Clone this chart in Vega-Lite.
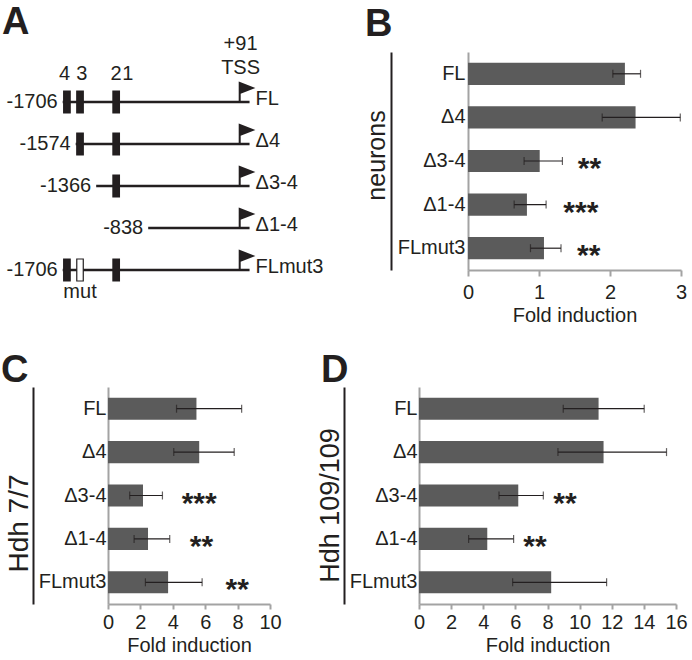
{
  "$schema": "https://vega.github.io/schema/vega-lite/v6.json",
  "padding": {"left": 1, "top": 3, "right": 2, "bottom": 2},
  "background": "white",
  "spacing": 27,
  "config": {
    "font": "Liberation Sans",
    "view": {"stroke": null},
    "axis": {"grid": false, "labelFont": "Liberation Sans", "titleFont": "Liberation Sans", "labelOverlap": false, "labelFlush": false},
    "text": {"font": "Liberation Sans"},
    "title": {"font": "Liberation Sans"}
  },
  "datasets": {
    "constructs": [
      {"name": "FL", "row": 1, "start": -1706, "startLabel": "-1706", "end": 191},
      {"name": "Δ4", "row": 2, "start": -1574, "startLabel": "-1574", "end": 191},
      {"name": "Δ3-4", "row": 3, "start": -1366, "startLabel": "-1366", "end": 191},
      {"name": "Δ1-4", "row": 4, "start": -838, "startLabel": "-838", "end": 191},
      {"name": "FLmut3", "row": 5, "start": -1706, "startLabel": "-1706", "end": 191}
    ],
    "boxes": [
      {"row": 1, "site": "4", "pos": -1663, "kind": "wt"},
      {"row": 1, "site": "3", "pos": -1530, "kind": "wt"},
      {"row": 1, "site": "2-1", "pos": -1163, "kind": "wt"},
      {"row": 2, "site": "3", "pos": -1530, "kind": "wt"},
      {"row": 2, "site": "2-1", "pos": -1163, "kind": "wt"},
      {"row": 3, "site": "2-1", "pos": -1163, "kind": "wt"},
      {"row": 5, "site": "4", "pos": -1663, "kind": "wt"},
      {"row": 5, "site": "3", "pos": -1530, "kind": "mut"},
      {"row": 5, "site": "2-1", "pos": -1163, "kind": "wt"}
    ],
    "annotations": [
      {"text": "+91", "bp": 100, "level": -0.39},
      {"text": "TSS", "bp": 100, "level": 0.19},
      {"text": "4", "bp": -1686, "level": 0.33},
      {"text": "3", "bp": -1513, "level": 0.33},
      {"text": "2", "bp": -1163, "level": 0.33},
      {"text": "1", "bp": -1046, "level": 0.33},
      {"text": "mut", "bp": -1530, "level": 5.53}
    ],
    "neurons": [
      {"construct": "FL", "mean": 2.21, "lo": 2.04, "hi": 2.43},
      {"construct": "Δ4", "mean": 2.36, "lo": 1.89, "hi": 2.99},
      {"construct": "Δ3-4", "mean": 1.01, "lo": 0.79, "hi": 1.33, "stars": "**", "starx": 1.71},
      {"construct": "Δ1-4", "mean": 0.83, "lo": 0.65, "hi": 1.10, "stars": "***", "starx": 1.59},
      {"construct": "FLmut3", "mean": 1.07, "lo": 0.88, "hi": 1.31, "stars": "**", "starx": 1.70}
    ],
    "hdh7": [
      {"construct": "FL", "mean": 5.46, "lo": 4.23, "hi": 8.25},
      {"construct": "Δ4", "mean": 5.63, "lo": 4.06, "hi": 7.79},
      {"construct": "Δ3-4", "mean": 2.16, "lo": 1.34, "hi": 3.36, "stars": "***", "starx": 5.63},
      {"construct": "Δ1-4", "mean": 2.47, "lo": 1.61, "hi": 3.81, "stars": "**", "starx": 5.77},
      {"construct": "FLmut3", "mean": 3.71, "lo": 2.31, "hi": 5.81, "stars": "**", "starx": 7.98}
    ],
    "hdh109": [
      {"construct": "FL", "mean": 11.18, "lo": 8.98, "hi": 14.02},
      {"construct": "Δ4", "mean": 11.49, "lo": 8.65, "hi": 15.41},
      {"construct": "Δ3-4", "mean": 6.18, "lo": 4.98, "hi": 7.74, "stars": "**", "starx": 9.09},
      {"construct": "Δ1-4", "mean": 4.25, "lo": 3.09, "hi": 5.89, "stars": "**", "starx": 7.22},
      {"construct": "FLmut3", "mean": 8.23, "lo": 5.83, "hi": 11.68}
    ]
  },
  "vconcat": [
    {
      "bounds": "flush",
      "spacing": 149,
      "hconcat": [
        {
          "title": {"text": "A", "anchor": "start", "frame": "group", "orient": "top", "dx": -106, "dy": 36, "offset": -2, "baseline": "alphabetic", "fontSize": 38, "fontWeight": "bold", "color": "#231f20"},
          "width": 211,
          "height": 218,
          "layer": [
            {
              "data": {"name": "constructs"},
              "mark": {"type": "rule", "strokeWidth": 2.5, "color": "#231f20"},
              "encoding": {
                "x": {"field": "start", "type": "quantitative", "scale": {"domain": [-1246, 896], "nice": false, "zero": false}, "axis": null},
                "x2": {"field": "end"},
                "y": {"field": "row", "type": "quantitative", "scale": {"domain": [-0.1905, 5], "reverse": true, "nice": false, "zero": false}, "axis": null}
              }
            },
            {
              "data": {"name": "boxes"},
              "mark": {"type": "tick", "orient": "vertical", "thickness": 6.5, "size": 22, "stroke": "#231f20", "strokeWidth": 1.2, "opacity": 1},
              "encoding": {
                "x": {"field": "pos", "type": "quantitative", "scale": {"domain": [-1246, 896], "nice": false, "zero": false}, "axis": null},
                "y": {"field": "row", "type": "quantitative", "scale": {"domain": [-0.1905, 5], "reverse": true, "nice": false, "zero": false}, "axis": null},
                "fill": {"field": "kind", "type": "nominal", "scale": {"domain": ["wt", "mut"], "range": ["#231f20", "#ffffff"]}, "legend": null}
              }
            },
            {
              "data": {"name": "constructs"},
              "mark": {"type": "point", "shape": "M0,0L0,-0.9M0,-1L0.68,-0.74L0,-0.47Z", "size": 1444, "filled": true, "fill": "#231f20", "stroke": "#231f20", "strokeWidth": 2, "opacity": 1},
              "encoding": {
                "x": {"datum": 91, "type": "quantitative", "scale": {"domain": [-1246, 896], "nice": false, "zero": false}, "axis": null},
                "y": {"field": "row", "type": "quantitative", "scale": {"domain": [-0.1905, 5], "reverse": true, "nice": false, "zero": false}, "axis": null}
              }
            },
            {
              "data": {"name": "constructs"},
              "mark": {"type": "text", "align": "right", "baseline": "middle", "dx": -5, "fontSize": 20, "color": "#231f20"},
              "encoding": {
                "x": {"field": "start", "type": "quantitative", "scale": {"domain": [-1246, 896], "nice": false, "zero": false}, "axis": null},
                "y": {"field": "row", "type": "quantitative", "scale": {"domain": [-0.1905, 5], "reverse": true, "nice": false, "zero": false}, "axis": null},
                "text": {"field": "startLabel"}
              }
            },
            {
              "data": {"name": "constructs"},
              "mark": {"type": "text", "align": "left", "baseline": "middle", "dx": 6, "dy": -3, "fontSize": 20, "color": "#231f20"},
              "encoding": {
                "x": {"field": "end", "type": "quantitative", "scale": {"domain": [-1246, 896], "nice": false, "zero": false}, "axis": null},
                "y": {"field": "row", "type": "quantitative", "scale": {"domain": [-0.1905, 5], "reverse": true, "nice": false, "zero": false}, "axis": null},
                "text": {"field": "name"}
              }
            },
            {
              "data": {"name": "annotations"},
              "mark": {"type": "text", "align": "center", "baseline": "middle", "fontSize": 20, "color": "#231f20"},
              "encoding": {
                "x": {"field": "bp", "type": "quantitative", "scale": {"domain": [-1246, 896], "nice": false, "zero": false}, "axis": null},
                "y": {"field": "level", "type": "quantitative", "scale": {"domain": [-0.1905, 5], "reverse": true, "nice": false, "zero": false}, "axis": null},
                "text": {"field": "text"}
              }
            }
          ]
        },
        {
          "title": {"text": "B", "anchor": "start", "frame": "group", "orient": "top", "dx": -103, "dy": 33, "offset": 11, "baseline": "alphabetic", "fontSize": 38, "fontWeight": "bold", "color": "#231f20"},
          "width": 213,
          "height": 218,
          "data": {"name": "neurons"},
          "resolve": {"axis": {"y": "independent"}},
          "layer": [
            {
              "mark": {"type": "bar", "color": "#5b5b5b"},
              "encoding": {
                "y": {"field": "construct", "type": "nominal", "sort": null, "scale": {"paddingInner": 0.49, "paddingOuter": 0.245},
                      "axis": {"orient": "left", "title": null, "ticks": false, "labelFontSize": 20, "labelColor": "#231f20", "labelPadding": 3, "domainColor": "#a3a3a3", "domainWidth": 2, "minExtent": 0}},
                "x": {"field": "mean", "type": "quantitative", "title": "Fold induction", "scale": {"domain": [0, 3], "nice": false},
                      "axis": {"orient": "bottom", "values": [0, 1, 2, 3], "format": "d", "domainColor": "#a3a3a3", "domainWidth": 2, "tickColor": "#a3a3a3", "tickWidth": 2, "tickSize": 6, "labelFontSize": 20, "labelPadding": 6, "labelColor": "#231f20", "labelFlush": false, "labelOverlap": false, "titleFontSize": 20, "titleFontWeight": "normal", "titleColor": "#231f20", "titlePadding": 3}}
              }
            },
            {
              "mark": {"type": "rule", "color": "#231f20", "strokeWidth": 1.2},
              "encoding": {
                "y": {"field": "construct", "type": "nominal", "sort": null, "scale": {"paddingInner": 0.49, "paddingOuter": 0.245},
                      "axis": {"orient": "left", "offset": 77, "labels": false, "ticks": false, "domainColor": "#231f20", "domainWidth": 2, "title": "neurons", "titleFontSize": 25, "titleFontWeight": "normal", "titleColor": "#231f20", "titlePadding": 2, "minExtent": 0, "titleY": 103}},
                "x": {"field": "lo", "type": "quantitative", "title": "Fold induction", "scale": {"domain": [0, 3], "nice": false},
                      "axis": {"orient": "bottom", "values": [0, 1, 2, 3], "format": "d", "domainColor": "#a3a3a3", "domainWidth": 2, "tickColor": "#a3a3a3", "tickWidth": 2, "tickSize": 6, "labelFontSize": 20, "labelPadding": 6, "labelColor": "#231f20", "labelFlush": false, "labelOverlap": false, "titleFontSize": 20, "titleFontWeight": "normal", "titleColor": "#231f20", "titlePadding": 3}},
                "x2": {"field": "hi"}
              }
            },
            {
              "mark": {"type": "tick", "orient": "vertical", "color": "#231f20", "thickness": 1.2, "size": 8},
              "encoding": {
                "y": {"field": "construct", "type": "nominal", "sort": null, "axis": null},
                "x": {"field": "lo", "type": "quantitative", "title": "Fold induction", "scale": {"domain": [0, 3], "nice": false},
                      "axis": {"orient": "bottom", "values": [0, 1, 2, 3], "format": "d", "domainColor": "#a3a3a3", "domainWidth": 2, "tickColor": "#a3a3a3", "tickWidth": 2, "tickSize": 6, "labelFontSize": 20, "labelPadding": 6, "labelColor": "#231f20", "labelFlush": false, "labelOverlap": false, "titleFontSize": 20, "titleFontWeight": "normal", "titleColor": "#231f20", "titlePadding": 3}}
              }
            },
            {
              "mark": {"type": "tick", "orient": "vertical", "color": "#231f20", "thickness": 1.2, "size": 8},
              "encoding": {
                "y": {"field": "construct", "type": "nominal", "sort": null, "axis": null},
                "x": {"field": "hi", "type": "quantitative", "title": "Fold induction", "scale": {"domain": [0, 3], "nice": false},
                      "axis": {"orient": "bottom", "values": [0, 1, 2, 3], "format": "d", "domainColor": "#a3a3a3", "domainWidth": 2, "tickColor": "#a3a3a3", "tickWidth": 2, "tickSize": 6, "labelFontSize": 20, "labelPadding": 6, "labelColor": "#231f20", "labelFlush": false, "labelOverlap": false, "titleFontSize": 20, "titleFontWeight": "normal", "titleColor": "#231f20", "titlePadding": 3}}
              }
            },
            {
              "transform": [{"filter": "isValid(datum.stars)"}],
              "mark": {"type": "text", "fontSize": 30, "fontWeight": "bold", "color": "#231f20", "baseline": "middle", "align": "center", "dy": 8},
              "encoding": {
                "y": {"field": "construct", "type": "nominal", "sort": null, "axis": null},
                "x": {"field": "starx", "type": "quantitative", "title": "Fold induction", "scale": {"domain": [0, 3], "nice": false},
                      "axis": {"orient": "bottom", "values": [0, 1, 2, 3], "format": "d", "domainColor": "#a3a3a3", "domainWidth": 2, "tickColor": "#a3a3a3", "tickWidth": 2, "tickSize": 6, "labelFontSize": 20, "labelPadding": 6, "labelColor": "#231f20", "labelFlush": false, "labelOverlap": false, "titleFontSize": 20, "titleFontWeight": "normal", "titleColor": "#231f20", "titlePadding": 3}},
                "text": {"field": "stars"}
              }
            }
          ]
        }
      ]
    },
    {
      "bounds": "flush",
      "spacing": 149,
      "hconcat": [
        {
          "title": {"text": "C", "anchor": "start", "frame": "group", "orient": "top", "dx": -107, "dy": 36, "offset": 3, "baseline": "alphabetic", "fontSize": 38, "fontWeight": "bold", "color": "#231f20"},
          "width": 162,
          "height": 217,
          "data": {"name": "hdh7"},
          "resolve": {"axis": {"y": "independent"}},
          "layer": [
            {
              "mark": {"type": "bar", "color": "#5b5b5b"},
              "encoding": {
                "y": {"field": "construct", "type": "nominal", "sort": null, "scale": {"paddingInner": 0.49, "paddingOuter": 0.245},
                      "axis": {"orient": "left", "title": null, "ticks": false, "labelFontSize": 20, "labelColor": "#231f20", "labelPadding": 2, "domainColor": "#a3a3a3", "domainWidth": 2, "minExtent": 0}},
                "x": {"field": "mean", "type": "quantitative", "title": "Fold induction", "scale": {"domain": [0, 10], "nice": false},
                      "axis": {"orient": "bottom", "values": [0, 2, 4, 6, 8, 10], "format": "d", "domainColor": "#a3a3a3", "domainWidth": 2, "tickColor": "#a3a3a3", "tickWidth": 2, "tickSize": 5, "labelFontSize": 20, "labelPadding": 3, "labelColor": "#231f20", "labelFlush": false, "labelOverlap": false, "titleFontSize": 20, "titleFontWeight": "normal", "titleColor": "#231f20", "titlePadding": 3}}
              }
            },
            {
              "mark": {"type": "rule", "color": "#231f20", "strokeWidth": 1.2},
              "encoding": {
                "y": {"field": "construct", "type": "nominal", "sort": null, "scale": {"paddingInner": 0.49, "paddingOuter": 0.245},
                      "axis": {"orient": "left", "offset": 75, "labels": false, "ticks": false, "domainColor": "#231f20", "domainWidth": 2, "title": "Hdh 7/7", "titleFontSize": 28, "titleFontWeight": "normal", "titleColor": "#231f20", "titlePadding": 0, "minExtent": 0, "titleY": 136}},
                "x": {"field": "lo", "type": "quantitative", "title": "Fold induction", "scale": {"domain": [0, 10], "nice": false},
                      "axis": {"orient": "bottom", "values": [0, 2, 4, 6, 8, 10], "format": "d", "domainColor": "#a3a3a3", "domainWidth": 2, "tickColor": "#a3a3a3", "tickWidth": 2, "tickSize": 5, "labelFontSize": 20, "labelPadding": 3, "labelColor": "#231f20", "labelFlush": false, "labelOverlap": false, "titleFontSize": 20, "titleFontWeight": "normal", "titleColor": "#231f20", "titlePadding": 3}},
                "x2": {"field": "hi"}
              }
            },
            {
              "mark": {"type": "tick", "orient": "vertical", "color": "#231f20", "thickness": 1.2, "size": 8},
              "encoding": {
                "y": {"field": "construct", "type": "nominal", "sort": null, "axis": null},
                "x": {"field": "lo", "type": "quantitative", "title": "Fold induction", "scale": {"domain": [0, 10], "nice": false},
                      "axis": {"orient": "bottom", "values": [0, 2, 4, 6, 8, 10], "format": "d", "domainColor": "#a3a3a3", "domainWidth": 2, "tickColor": "#a3a3a3", "tickWidth": 2, "tickSize": 5, "labelFontSize": 20, "labelPadding": 3, "labelColor": "#231f20", "labelFlush": false, "labelOverlap": false, "titleFontSize": 20, "titleFontWeight": "normal", "titleColor": "#231f20", "titlePadding": 3}}
              }
            },
            {
              "mark": {"type": "tick", "orient": "vertical", "color": "#231f20", "thickness": 1.2, "size": 8},
              "encoding": {
                "y": {"field": "construct", "type": "nominal", "sort": null, "axis": null},
                "x": {"field": "hi", "type": "quantitative", "title": "Fold induction", "scale": {"domain": [0, 10], "nice": false},
                      "axis": {"orient": "bottom", "values": [0, 2, 4, 6, 8, 10], "format": "d", "domainColor": "#a3a3a3", "domainWidth": 2, "tickColor": "#a3a3a3", "tickWidth": 2, "tickSize": 5, "labelFontSize": 20, "labelPadding": 3, "labelColor": "#231f20", "labelFlush": false, "labelOverlap": false, "titleFontSize": 20, "titleFontWeight": "normal", "titleColor": "#231f20", "titlePadding": 3}}
              }
            },
            {
              "transform": [{"filter": "isValid(datum.stars)"}],
              "mark": {"type": "text", "fontSize": 30, "fontWeight": "bold", "color": "#231f20", "baseline": "middle", "align": "center", "dy": 8},
              "encoding": {
                "y": {"field": "construct", "type": "nominal", "sort": null, "axis": null},
                "x": {"field": "starx", "type": "quantitative", "title": "Fold induction", "scale": {"domain": [0, 10], "nice": false},
                      "axis": {"orient": "bottom", "values": [0, 2, 4, 6, 8, 10], "format": "d", "domainColor": "#a3a3a3", "domainWidth": 2, "tickColor": "#a3a3a3", "tickWidth": 2, "tickSize": 5, "labelFontSize": 20, "labelPadding": 3, "labelColor": "#231f20", "labelFlush": false, "labelOverlap": false, "titleFontSize": 20, "titleFontWeight": "normal", "titleColor": "#231f20", "titlePadding": 3}},
                "text": {"field": "stars"}
              }
            }
          ]
        },
        {
          "title": {"text": "D", "anchor": "start", "frame": "group", "orient": "top", "dx": -98, "dy": 36, "offset": 3, "baseline": "alphabetic", "fontSize": 38, "fontWeight": "bold", "color": "#231f20"},
          "width": 257,
          "height": 217,
          "data": {"name": "hdh109"},
          "resolve": {"axis": {"y": "independent"}},
          "layer": [
            {
              "mark": {"type": "bar", "color": "#5b5b5b"},
              "encoding": {
                "y": {"field": "construct", "type": "nominal", "sort": null, "scale": {"paddingInner": 0.49, "paddingOuter": 0.245},
                      "axis": {"orient": "left", "title": null, "ticks": false, "labelFontSize": 20, "labelColor": "#231f20", "labelPadding": 2, "domainColor": "#a3a3a3", "domainWidth": 2, "minExtent": 0}},
                "x": {"field": "mean", "type": "quantitative", "title": "Fold induction", "scale": {"domain": [0, 16], "nice": false},
                      "axis": {"orient": "bottom", "values": [0, 2, 4, 6, 8, 10, 12, 14, 16], "format": "d", "domainColor": "#a3a3a3", "domainWidth": 2, "tickColor": "#a3a3a3", "tickWidth": 2, "tickSize": 5, "labelFontSize": 20, "labelPadding": 3, "labelColor": "#231f20", "labelFlush": false, "labelOverlap": false, "titleFontSize": 20, "titleFontWeight": "normal", "titleColor": "#231f20", "titlePadding": 3}}
              }
            },
            {
              "mark": {"type": "rule", "color": "#231f20", "strokeWidth": 1.2},
              "encoding": {
                "y": {"field": "construct", "type": "nominal", "sort": null, "scale": {"paddingInner": 0.49, "paddingOuter": 0.245},
                      "axis": {"orient": "left", "offset": 75, "labels": false, "ticks": false, "domainColor": "#231f20", "domainWidth": 2, "title": "Hdh 109/109", "titleFontSize": 27, "titleFontWeight": "normal", "titleColor": "#231f20", "titlePadding": 0, "minExtent": 0, "titleY": 118}},
                "x": {"field": "lo", "type": "quantitative", "title": "Fold induction", "scale": {"domain": [0, 16], "nice": false},
                      "axis": {"orient": "bottom", "values": [0, 2, 4, 6, 8, 10, 12, 14, 16], "format": "d", "domainColor": "#a3a3a3", "domainWidth": 2, "tickColor": "#a3a3a3", "tickWidth": 2, "tickSize": 5, "labelFontSize": 20, "labelPadding": 3, "labelColor": "#231f20", "labelFlush": false, "labelOverlap": false, "titleFontSize": 20, "titleFontWeight": "normal", "titleColor": "#231f20", "titlePadding": 3}},
                "x2": {"field": "hi"}
              }
            },
            {
              "mark": {"type": "tick", "orient": "vertical", "color": "#231f20", "thickness": 1.2, "size": 8},
              "encoding": {
                "y": {"field": "construct", "type": "nominal", "sort": null, "axis": null},
                "x": {"field": "lo", "type": "quantitative", "title": "Fold induction", "scale": {"domain": [0, 16], "nice": false},
                      "axis": {"orient": "bottom", "values": [0, 2, 4, 6, 8, 10, 12, 14, 16], "format": "d", "domainColor": "#a3a3a3", "domainWidth": 2, "tickColor": "#a3a3a3", "tickWidth": 2, "tickSize": 5, "labelFontSize": 20, "labelPadding": 3, "labelColor": "#231f20", "labelFlush": false, "labelOverlap": false, "titleFontSize": 20, "titleFontWeight": "normal", "titleColor": "#231f20", "titlePadding": 3}}
              }
            },
            {
              "mark": {"type": "tick", "orient": "vertical", "color": "#231f20", "thickness": 1.2, "size": 8},
              "encoding": {
                "y": {"field": "construct", "type": "nominal", "sort": null, "axis": null},
                "x": {"field": "hi", "type": "quantitative", "title": "Fold induction", "scale": {"domain": [0, 16], "nice": false},
                      "axis": {"orient": "bottom", "values": [0, 2, 4, 6, 8, 10, 12, 14, 16], "format": "d", "domainColor": "#a3a3a3", "domainWidth": 2, "tickColor": "#a3a3a3", "tickWidth": 2, "tickSize": 5, "labelFontSize": 20, "labelPadding": 3, "labelColor": "#231f20", "labelFlush": false, "labelOverlap": false, "titleFontSize": 20, "titleFontWeight": "normal", "titleColor": "#231f20", "titlePadding": 3}}
              }
            },
            {
              "transform": [{"filter": "isValid(datum.stars)"}],
              "mark": {"type": "text", "fontSize": 30, "fontWeight": "bold", "color": "#231f20", "baseline": "middle", "align": "center", "dy": 8},
              "encoding": {
                "y": {"field": "construct", "type": "nominal", "sort": null, "axis": null},
                "x": {"field": "starx", "type": "quantitative", "title": "Fold induction", "scale": {"domain": [0, 16], "nice": false},
                      "axis": {"orient": "bottom", "values": [0, 2, 4, 6, 8, 10, 12, 14, 16], "format": "d", "domainColor": "#a3a3a3", "domainWidth": 2, "tickColor": "#a3a3a3", "tickWidth": 2, "tickSize": 5, "labelFontSize": 20, "labelPadding": 3, "labelColor": "#231f20", "labelFlush": false, "labelOverlap": false, "titleFontSize": 20, "titleFontWeight": "normal", "titleColor": "#231f20", "titlePadding": 3}},
                "text": {"field": "stars"}
              }
            }
          ]
        }
      ]
    }
  ]
}
